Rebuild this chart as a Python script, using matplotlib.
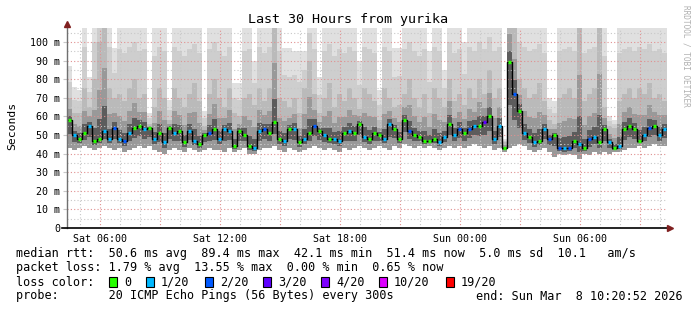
import matplotlib
matplotlib.use("Agg")
import matplotlib.pyplot as plt
from matplotlib.patches import Rectangle
import numpy as np

# 30 hours, 15 minute bins, starting Sat 04:20:52 (hours since Sat 00:00)
t_start = 4.3478
bin_h = 0.25

# median rtt per bin (ms)
med = [58, 50, 48, 51, 55, 47, 48, 52, 48, 54,
       48, 47, 51, 54, 55, 53, 54, 48, 51, 46,
       54, 51, 52, 46, 52, 47, 45, 50, 51, 53,
       48, 53, 52, 44, 52, 50, 44, 43, 52, 53,
       51, 57, 48, 47, 53, 53, 46, 48, 51, 55,
       52, 50, 48, 48, 47, 51, 52, 51, 56, 49,
       48, 51, 50, 48, 56, 53, 48, 58, 52, 50,
       49, 47, 47, 48, 46, 49, 56, 50, 53, 51,
       53, 55, 55, 57, 60, 48, 55, 43, 89, 72,
       63, 51, 49, 46, 47, 53, 48, 50, 43, 43,
       43, 47, 45, 43, 48, 49, 46, 53, 46, 43,
       44, 53, 55, 53, 47, 50, 54, 55, 50, 53]

# loss class per bin (index into loss_labels)
loss = [0, 1, 0, 0, 1, 0, 0, 1, 1, 2,
        1, 2, 1, 0, 0, 1, 0, 1, 0, 1,
        0, 1, 0, 0, 1, 1, 0, 0, 2, 0,
        1, 1, 1, 0, 0, 0, 0, 1, 1, 2,
        0, 0, 0, 1, 0, 1, 0, 1, 0, 2,
        0, 1, 0, 1, 1, 0, 1, 0, 0, 1,
        0, 0, 0, 1, 1, 0, 0, 0, 2, 0,
        0, 0, 0, 0, 1, 1, 0, 1, 2, 0,
        2, 1, 0, 3, 0, 1, 1, 0, 0, 2,
        0, 1, 0, 1, 0, 1, 2, 0, 2, 1,
        2, 0, 1, 0, 2, 1, 0, 0, 1, 0,
        1, 0, 0, 0, 0, 1, 2, 0, 1, 1]

# smoke: min ping, upper-middle ping, max ping per bin (ms)
lo = [43, 42, 43, 44, 43, 42, 43, 44, 43, 42,
      43, 41, 42, 43, 44, 43, 44, 42, 41, 40,
      42, 43, 42, 41, 43, 42, 41, 42, 43, 42,
      42, 41, 43, 41, 42, 43, 40, 40, 42, 43,
      43, 44, 42, 41, 43, 42, 41, 42, 43, 44,
      43, 42, 43, 42, 41, 43, 42, 43, 44, 43,
      42, 43, 44, 43, 42, 44, 43, 45, 44, 43,
      44, 43, 44, 43, 42, 43, 44, 43, 44, 43,
      44, 45, 44, 43, 44, 42, 43, 41, 43, 44,
      45, 44, 42, 41, 42, 43, 41, 38, 40, 39,
      40, 39, 37, 40, 39, 41, 40, 41, 40, 41,
      41, 42, 43, 43, 44, 43, 44, 45, 44, 44]

up = [70, 62, 62, 75, 65, 80, 100, 120, 75, 70,
      72, 68, 75, 80, 70, 72, 56, 65, 75, 70,
      58, 75, 70, 65, 72, 78, 68, 55, 72, 80,
      70, 65, 75, 62, 60, 70, 72, 66, 75, 68,
      75, 120, 70, 68, 65, 70, 62, 75, 90, 72,
      62, 70, 78, 65, 72, 68, 75, 70, 64, 75,
      72, 68, 58, 75, 70, 65, 66, 72, 80, 70,
      65, 72, 62, 75, 70, 65, 80, 68, 72, 66,
      75, 70, 80, 72, 85, 70, 75, 46, 120, 110,
      80, 75, 70, 72, 78, 68, 58, 56, 70, 72,
      75, 70, 120, 68, 72, 75, 120, 65, 55, 54,
      68, 72, 75, 70, 75, 72, 78, 70, 72, 68]

hi = [87, 76, 74, 120, 81, 120, 120, 120, 120, 97,
      120, 120, 120, 120, 120, 120, 62, 120, 120, 120,
      69, 120, 120, 120, 120, 120, 120, 63, 120, 120,
      120, 120, 120, 78, 78, 120, 120, 90, 120, 120,
      120, 120, 120, 97, 97, 95, 95, 95, 120, 120,
      81, 120, 120, 120, 120, 120, 120, 120, 90, 120,
      120, 120, 74, 120, 120, 97, 97, 120, 120, 120,
      120, 120, 95, 120, 120, 85, 120, 120, 120, 100,
      120, 120, 120, 120, 120, 120, 120, 48, 120, 120,
      120, 120, 120, 120, 120, 120, 70, 68, 120, 120,
      120, 120, 120, 120, 120, 120, 120, 120, 60, 58,
      120, 120, 120, 120, 120, 120, 120, 120, 120, 120]

loss_labels = ["0", "1/20", "2/20", "3/20", "4/20", "10/20", "19/20"]
loss_colors = ["#26ff00", "#00b8ff", "#0059ff", "#5e00ff", "#7e00ff", "#dd00ff", "#ff0000"]

y_ticks = [0, 10, 20, 30, 40, 50, 60, 70, 80, 90, 100]
y_ticklabels = ["0"] + [f"{v} m" for v in y_ticks[1:]]
x_ticks = [6, 12, 18, 24, 30]
x_ticklabels = ["Sat 06:00", "Sat 12:00", "Sat 18:00", "Sun 00:00", "Sun 06:00"]

title = "Last 30 Hours from yurika"
stats_rtt = "median rtt:  50.6 ms avg  89.4 ms max  42.1 ms min  51.4 ms now  5.0 ms sd  10.1   am/s"
stats_loss = "packet loss: 1.79 % avg  13.55 % max  0.00 % min  0.65 % now"
probe_txt = "probe:       20 ICMP Echo Pings (56 Bytes) every 300s"
end_txt = "end: Sun Mar  8 10:20:52 2026"

W, H = 697, 310
mono = "DejaVu Sans Mono"
fig = plt.figure(figsize=(W / 100, H / 100), dpi=100)
ax = fig.add_axes([67 / W, 1 - 228 / H, 600 / W, 200 / H])

med = np.array(med, float)
lo = np.array(lo, float)
up = np.array(up, float)
hi = np.array(hi, float)
n = len(med)
edges = t_start + bin_h * np.arange(n + 1)


def ext(a):
    return np.append(a, a[-1])


# smoke layers, lightest first
ax.fill_between(edges, ext(lo), ext(hi), step="post", color="#e0e0e0", lw=0, zorder=1)
ax.fill_between(edges, ext(lo), ext((up + hi) / 2), step="post", color="#cecece", lw=0, zorder=1.5)
ax.fill_between(edges, ext(lo), ext(up), step="post", color="#bababa", lw=0, zorder=2)
ax.fill_between(edges, ext(lo), ext((med + up) / 2), step="post", color="#999999", lw=0, zorder=3)
ax.fill_between(edges, ext((lo + med) / 2), ext(med + (up - med) * 0.2), step="post",
                color="#5c5c5c", lw=0, zorder=4)

# grid
for v in np.arange(5, 107, 10):
    ax.axhline(v, color="#c8c8c8", ls=(0, (1, 2)), lw=0.8, zorder=5)
for v in y_ticks[1:]:
    ax.axhline(v, color="#e09090", ls=(0, (1, 2)), lw=0.8, zorder=5)
for h in range(5, 35):
    if h % 3 != 0:
        ax.axvline(h, color="#c8c8c8", ls=(0, (1, 2)), lw=0.8, zorder=5)
for h in range(6, 35, 3):
    ax.axvline(h, color="#e09090", ls=(0, (1, 2)), lw=0.8, zorder=5)

# median: black steps plus loss coloured ticks
ax.step(edges, ext(med), where="post", color="black", lw=1.0, zorder=6)
for i in range(n):
    ax.plot([edges[i] + 0.04, edges[i + 1] - 0.04], [med[i], med[i]],
            color=loss_colors[loss[i]], lw=2.4, solid_capstyle="butt", zorder=7)

ax.set_xlim(edges[0], edges[0] + 30)
ax.set_ylim(0, 107.5)
for s in ax.spines.values():
    s.set_visible(False)
ax.set_yticks(y_ticks)
ax.set_yticklabels(y_ticklabels, family=mono, fontsize=7.2)
ax.set_xticks(x_ticks)
ax.set_xticklabels(x_ticklabels, family=mono, fontsize=7.2)
ax.tick_params(axis="y", length=3, width=0.8, color="#c8c8c8", pad=2)
ax.tick_params(axis="x", length=0, pad=4)

# axes with arrows
ax.plot([0, 0], [0, 1.02], transform=ax.transAxes, color="#707070", lw=1, clip_on=False, zorder=8)
ax.plot([-0.008, 1.005], [0, 0], transform=ax.transAxes, color="black", lw=1.2, clip_on=False, zorder=8)
ax.plot([0], [1.02], transform=ax.transAxes, marker="^", ms=4, color="#802020", clip_on=False, zorder=9)
ax.plot([1.005], [0], transform=ax.transAxes, marker=">", ms=4, color="#802020", clip_on=False, zorder=9)

fig.text(348 / W, 1 - 20 / H, title, ha="center", va="center", family=mono, fontsize=9.6)
fig.text(12 / W, 1 - 126 / H, "Seconds", rotation=90, ha="center", va="center", family=mono, fontsize=8.2)
fig.text(686 / W, 1 - 5 / H, "RRDTOOL / TOBI OETIKER", rotation=270, ha="center", va="top",
         family=mono, fontsize=5.6, color="#b0b0b0")

fs = 8.5
fig.text(16 / W, 1 - 254 / H, stats_rtt, ha="left", va="center", family=mono, fontsize=fs)
fig.text(16 / W, 1 - 268 / H, stats_loss, ha="left", va="center", family=mono, fontsize=fs)
fig.text(16 / W, 1 - 282 / H, "loss color:", ha="left", va="center", family=mono, fontsize=fs)
sq_x = [109, 146, 205, 263, 321, 379, 446]
for sx, lab, col in zip(sq_x, loss_labels, loss_colors):
    fig.patches.append(Rectangle((sx / W, 1 - 287 / H), 8 / W, 10 / H, transform=fig.transFigure,
                                 facecolor=col, edgecolor="black", lw=0.8))
    fig.text((sx + 15) / W, 1 - 282 / H, lab, ha="left", va="center", family=mono, fontsize=fs)
fig.text(16 / W, 1 - 296 / H, probe_txt, ha="left", va="center", family=mono, fontsize=fs)
fig.text(683 / W, 1 - 296 / H, end_txt, ha="right", va="center", family=mono, fontsize=fs)

fig.savefig("out.png", dpi=100)
